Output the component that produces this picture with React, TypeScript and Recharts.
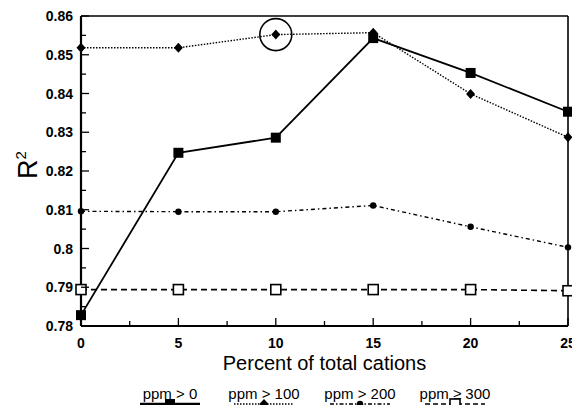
import { LineChart, Line, XAxis, YAxis, ReferenceLine, ReferenceDot } from 'recharts';

const percents = [0, 5, 10, 15, 20, 25];
const ppm0 = [0.7828, 0.8247, 0.8286, 0.8543, 0.8453, 0.8353];
const ppm100 = [0.8518, 0.8518, 0.8552, 0.8557, 0.8399, 0.8287];
const ppm200 = [0.8096, 0.8095, 0.8095, 0.8111, 0.8056, 0.8003];
const ppm300 = [0.7894, 0.7894, 0.7894, 0.7894, 0.7894, 0.7891];
const seriesNames = ['ppm > 0', 'ppm > 100', 'ppm > 200', 'ppm ≥ 300'];
const xTicks = [0, 2.5, 5, 7.5, 10, 12.5, 15, 17.5, 20, 22.5, 25];
const yTicks = [0.78, 0.785, 0.79, 0.795, 0.8, 0.805, 0.81, 0.815, 0.82, 0.825, 0.83, 0.835, 0.84, 0.845, 0.85, 0.855, 0.86];

const data = percents.map((p, i) => ({
  x: p,
  a: ppm0[i],
  b: ppm100[i],
  c: ppm200[i],
  d: ppm300[i],
}));

const FONT = 'Arial, "Liberation Sans", Helvetica, sans-serif';

const SquareDot = (props: any) => {
  const { cx, cy } = props;
  if (cx == null || cy == null) return null;
  return <rect x={cx - 5} y={cy - 5} width={10} height={10} fill="#000" />;
};
const OpenSquareDot = (props: any) => {
  const { cx, cy } = props;
  if (cx == null || cy == null) return null;
  return <rect x={cx - 5} y={cy - 5} width={10} height={10} fill="#fff" stroke="#000" strokeWidth={1.6} />;
};
const DiamondDot = (props: any) => {
  const { cx, cy } = props;
  if (cx == null || cy == null) return null;
  return <path d={`M${cx},${cy - 5} L${cx + 4.5},${cy} L${cx},${cy + 5} L${cx - 4.5},${cy} Z`} fill="#000" />;
};
const RoundDot = (props: any) => {
  const { cx, cy } = props;
  if (cx == null || cy == null) return null;
  return <circle cx={cx} cy={cy} r={3.2} fill="#000" />;
};

const XTick = (props: any) => {
  const { x, y, payload } = props;
  const major = payload.value % 5 === 0;
  return (
    <g>
      <line x1={x} x2={x} y1={y} y2={y - (major ? 8 : 5)} stroke="#000" strokeWidth={1.3} />
      {major && (
        <text x={x} y={y + 22} textAnchor="middle" fontSize={14} fontWeight="bold" fill="#000" fontFamily={FONT}>
          {payload.value}
        </text>
      )}
    </g>
  );
};

const YTick = (props: any) => {
  const { x, y, payload } = props;
  const v = Math.round(payload.value * 1000);
  const major = v % 10 === 0;
  return (
    <g>
      <line x1={x} x2={x + (major ? 8 : 5)} y1={y} y2={y} stroke="#000" strokeWidth={1.3} />
      {major && (
        <text x={x - 8} y={y + 5} textAnchor="end" fontSize={14} fontWeight="bold" fill="#000" fontFamily={FONT}>
          {String(Math.round(payload.value * 100) / 100)}
        </text>
      )}
    </g>
  );
};

const legendStyles = [
  { dash: undefined, width: 2.5, marker: 'square' },
  { dash: '1.5 1.5', width: 1.5, marker: 'diamond' },
  { dash: '4 2 1.5 2', width: 1.5, marker: 'circle' },
  { dash: '5 3', width: 1.6, marker: 'open' },
];
const legendCenters = [170, 264, 360, 455];

export default function App() {
  return (
    <div style={{ position: 'absolute', left: 0, top: 0, width: 572, height: 405, background: '#fff', overflow: 'hidden' }}>
      <LineChart width={572} height={405} data={data} margin={{ top: 16, right: 4, bottom: 49, left: 0 }}>
        <XAxis
          dataKey="x"
          type="number"
          domain={[0, 25]}
          ticks={xTicks}
          interval={0}
          height={30}
          tickLine={false}
          tickSize={0}
          tickMargin={0}
          tick={<XTick />}
          stroke="#000"
          strokeWidth={2.2}
          label={{
            content: (p: any) => (
              <text
                x={p.viewBox.x + p.viewBox.width / 2}
                y={370}
                textAnchor="middle"
                fontSize={20}
                fill="#000"
                fontFamily={FONT}
              >
                Percent of total cations
              </text>
            ),
          }}
        />
        <YAxis
          type="number"
          domain={[0.78, 0.86]}
          ticks={yTicks}
          interval={0}
          width={81}
          tickLine={false}
          tickSize={0}
          tickMargin={0}
          tick={<YTick />}
          stroke="#000"
          strokeWidth={2.2}
          allowDataOverflow
          label={{
            content: () => (
              <text transform="translate(37,165) rotate(-90)" textAnchor="middle" fontSize={27} fill="#000" fontFamily={FONT}>
                R<tspan dy={-11} fontSize={15}>2</tspan>
              </text>
            ),
          }}
        />
        <ReferenceLine y={0.86} stroke="#000" strokeWidth={1.6} />
        <ReferenceLine x={25} stroke="#000" strokeWidth={1.6} />
        <Line dataKey="d" name={seriesNames[3]} stroke="#000" strokeWidth={1.6} strokeDasharray="6 4" dot={<OpenSquareDot />} isAnimationActive={false} />
        <Line dataKey="c" name={seriesNames[2]} stroke="#000" strokeWidth={1.4} strokeDasharray="4 3 1.5 3" dot={<RoundDot />} isAnimationActive={false} />
        <Line dataKey="b" name={seriesNames[1]} stroke="#000" strokeWidth={1.4} strokeDasharray="1.5 1.5" dot={<DiamondDot />} isAnimationActive={false} />
        <Line dataKey="a" name={seriesNames[0]} stroke="#000" strokeWidth={1.8} dot={<SquareDot />} isAnimationActive={false} />
        <ReferenceDot x={10} y={ppm100[2]} r={16} fill="none" stroke="#000" strokeWidth={1.6} />
      </LineChart>
      {seriesNames.map((name, i) => {
        const s = legendStyles[i];
        return (
          <div
            key={name}
            style={{ position: 'absolute', left: legendCenters[i] - 40, top: 386, width: 80, height: 19, textAlign: 'center' }}
          >
            <div style={{ fontFamily: FONT, fontSize: 15, lineHeight: '15px', color: '#000' }}>{name}</div>
            <svg width={80} height={8} style={{ display: 'block', overflow: 'visible' }}>
              <line x1={10} x2={70} y1={3} y2={3} stroke="#000" strokeWidth={s.width} strokeDasharray={s.dash} />
              {s.marker === 'square' && <rect x={35} y={-2} width={10} height={10} fill="#000" />}
              {s.marker === 'diamond' && <path d="M40,-2 L44.5,3 L40,8 L35.5,3 Z" fill="#000" />}
              {s.marker === 'circle' && <circle cx={40} cy={3} r={3.2} fill="#000" />}
              {s.marker === 'open' && <rect x={35} y={-2} width={10} height={10} fill="#fff" stroke="#000" strokeWidth={1.6} />}
            </svg>
          </div>
        );
      })}
    </div>
  );
}
